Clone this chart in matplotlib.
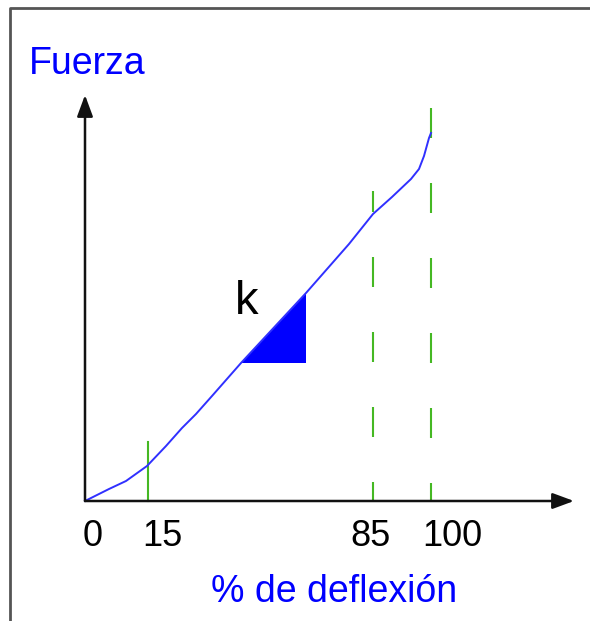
import matplotlib
matplotlib.use('Agg')
import matplotlib.pyplot as plt

plt.rcParams['font.family'] = ['Liberation Sans', 'DejaVu Sans']
plt.rcParams['lines.scale_dashes'] = False

# Schematic force/deflection curve, in drawing units from the origin
curve_x = [0, 24, 41, 62, 81, 97, 111, 127, 156, 221, 264, 288, 307, 326, 334, 339, 344, 346]
curve_y = [0, 12, 20, 35, 55, 73, 87, 105, 138, 208, 257, 287, 304, 322, 332, 345, 363, 392 - 24]

# Slope triangle "k"
tri_x = [156, 221, 221]
tri_y = [138, 208, 138]

# Reference deflections and their marker lines
tick_labels = ['0', '15', '85', '100']
tick_pos = [0, 63, 288, 346]
marker_top = [None, 59, 310, 393]

fig = plt.figure(figsize=(5.9, 6.21), dpi=100)
ax = fig.add_axes([0, 0, 1, 1])
ax.set_xlim(-85, 505)
ax.set_ylim(-120, 501)
ax.axis('off')

# frame (left and top edges)
ax.plot([-75, -75, 505], [-120, 493, 493], color='#555555', lw=2, solid_capstyle='butt')

green = '#45b823'
ax.plot([tick_pos[1]] * 2, [0, marker_top[1]], color=green, lw=1.5)
ax.plot([tick_pos[2]] * 2, [marker_top[2], 0], color=green, lw=1.5,
        linestyle=(9 * 0.72, (30 * 0.72, 45 * 0.72)))
ax.plot([tick_pos[3]] * 2, [marker_top[3], 0], color=green, lw=1.5,
        linestyle=(0, (30 * 0.72, 45 * 0.72)))

# axes with arrows
arrow = dict(arrowstyle='-|>,head_length=0.65,head_width=0.24', mutation_scale=20,
             color='#111111', lw=1.8, shrinkA=0, shrinkB=0)
ax.annotate('', xy=(0, 406), xytext=(0, 0), arrowprops=arrow)
ax.annotate('', xy=(489, 0), xytext=(0, 0), arrowprops=arrow)

ax.plot(curve_x, curve_y, color='#3030ff', lw=1.4)
ax.fill(tri_x, tri_y, color='#0000ff', lw=0)

ax.text(162, 187, 'k', fontsize=34, ha='center', va='baseline', color='black')

label_x = [8, 77, 285, 367]
for lx, lab in zip(label_x, tick_labels):
    ax.text(lx, -45, lab, fontsize=26, ha='center', va='baseline', color='black')

ax.text(2, 427, 'Fuerza', fontsize=27, ha='center', va='baseline', color='#0000ff')
ax.text(249, -101, '% de deflexión', fontsize=27, ha='center', va='baseline', color='#0000ff')

fig.savefig('out.png', dpi=100)
